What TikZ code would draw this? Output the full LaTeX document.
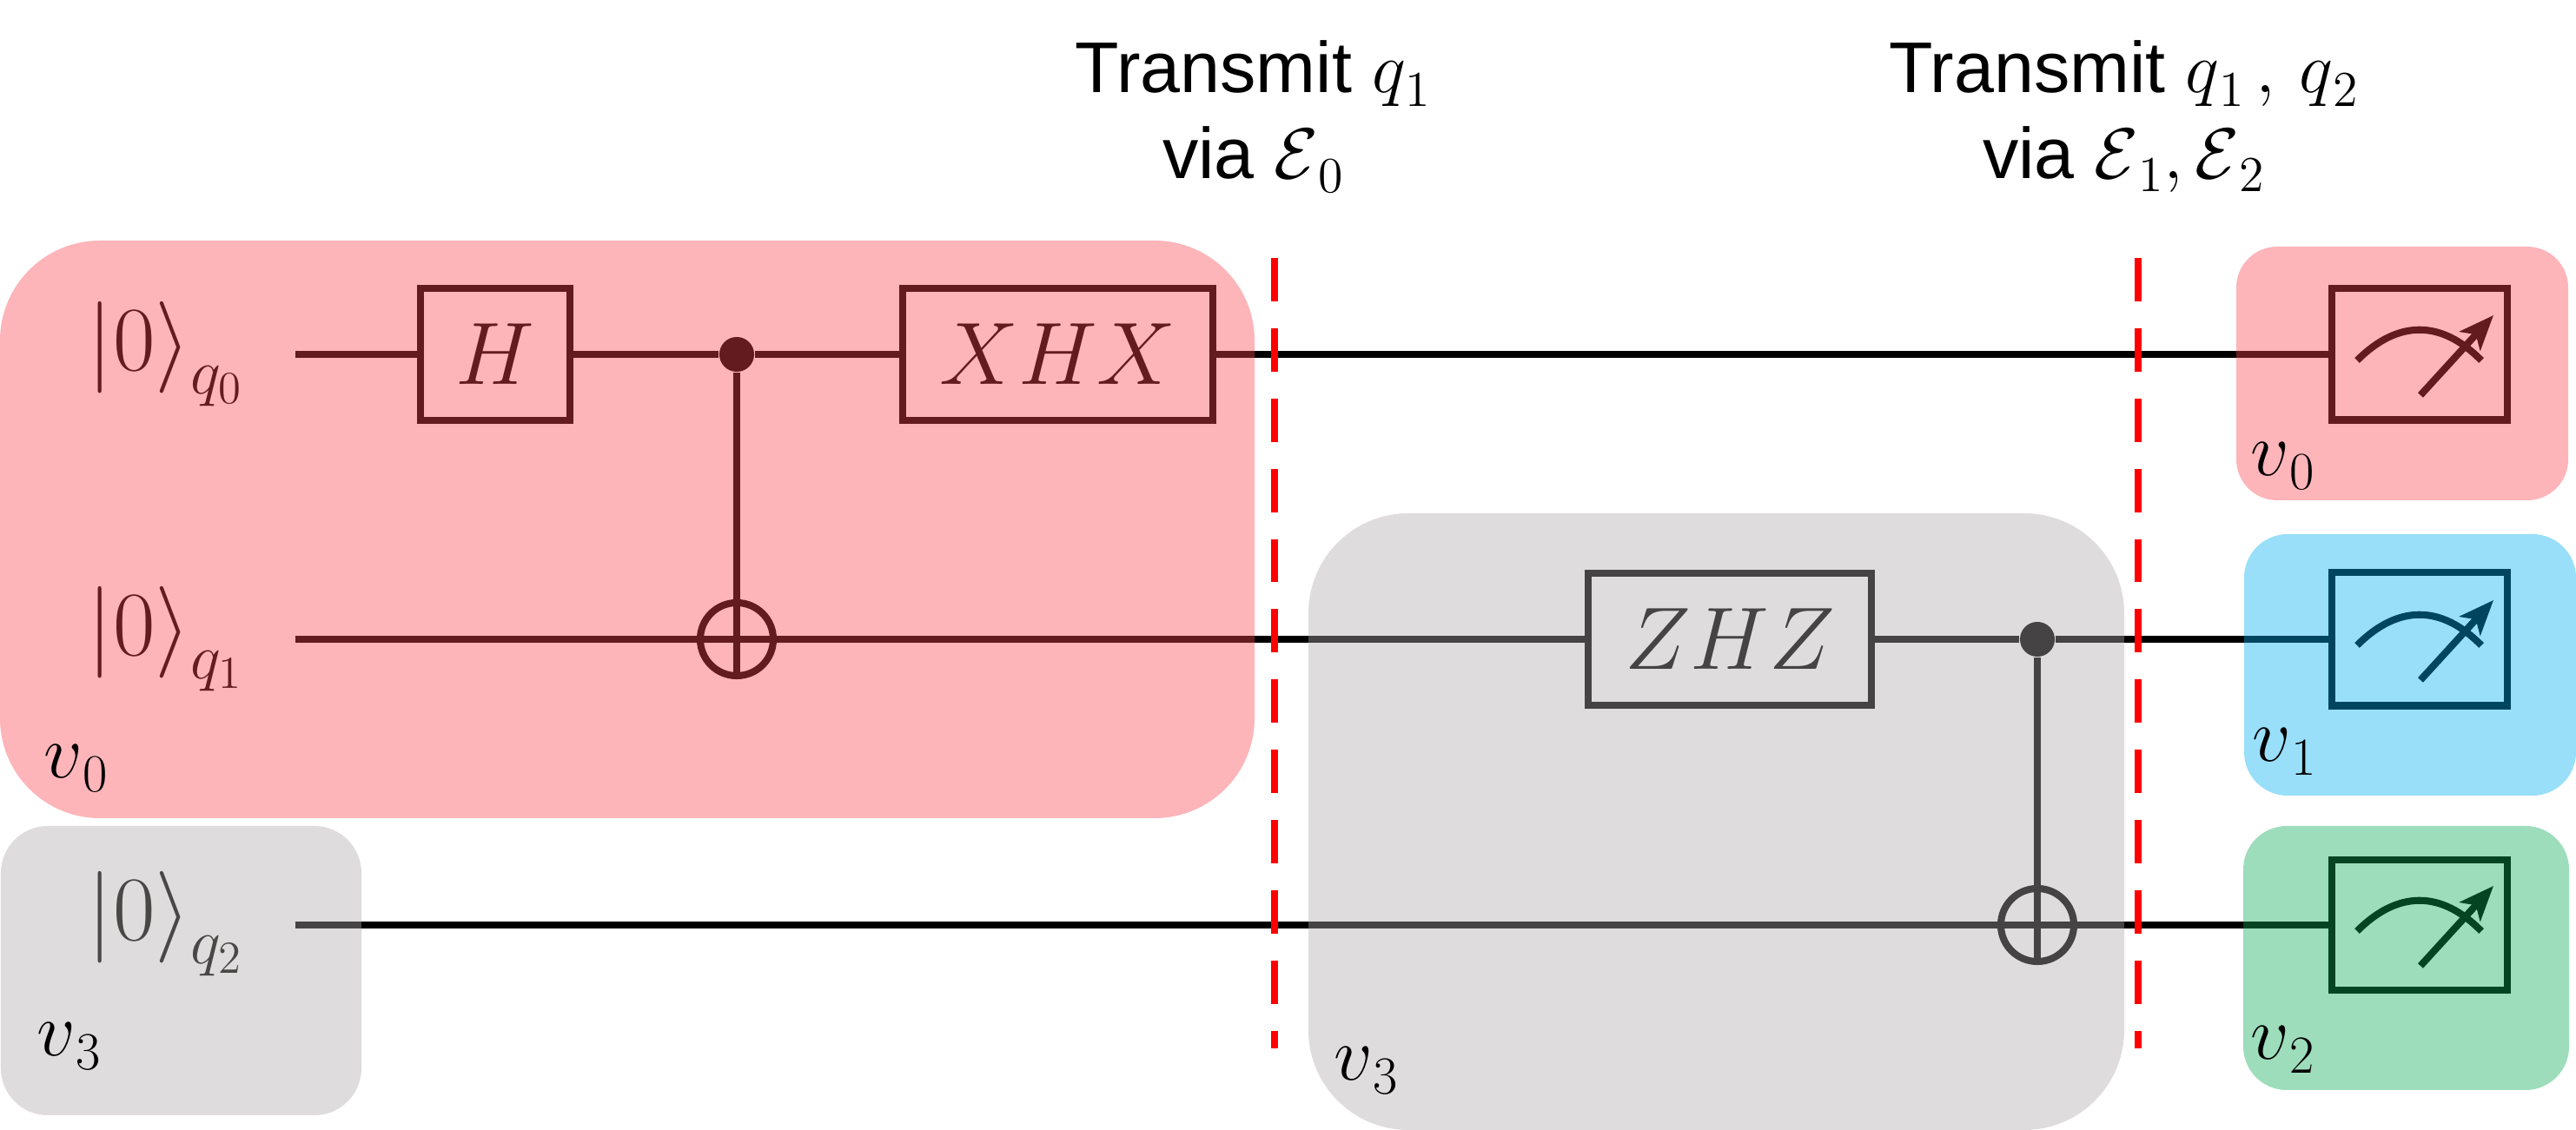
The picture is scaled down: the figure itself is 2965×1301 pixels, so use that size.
\RequirePackage{fix-cm}
\documentclass[tikz,border=0pt]{standalone}
\usepackage[no-math]{fontspec}
\newfontfamily\labelfont{Liberation Sans}
\usetikzlibrary{arrows.meta}
\definecolor{partred}{HTML}{FA454F}
\definecolor{partgray}{HTML}{B0A8AA}
\definecolor{partblue}{HTML}{00AEF2}
\definecolor{partgreen}{HTML}{0AAA58}
\newcommand{\lowsub}[2]{#1\raisebox{-4.5pt}{$\scriptstyle #2$}}
\newcommand{\ketzero}[1]{$|0\rangle\raisebox{-7.5pt}{$\scriptstyle q_{#1}$}$}
\tikzset{
  wire/.style={line width=2.3pt, black},
  gatebox/.style={draw=black, line width=2.3pt, minimum height=1.52cm, inner sep=0pt, font=\fontsize{29}{35}\selectfont},
  ctrldot/.style={circle, fill=black, minimum size=0.4cm, inner sep=0pt},
  targetring/.style={circle, draw=black, line width=2.3pt, minimum size=0.84cm, inner sep=0pt},
  meterbox/.style={draw=black, line width=2.3pt, minimum width=2.02cm, inner sep=0pt},
  ketlabel/.style={inner sep=0pt, anchor=base west, font=\fontsize{30}{36}\selectfont},
  partlabel/.style={inner sep=0pt, anchor=base west, font=\fontsize{25}{30}\selectfont},
  headlabel/.style={align=center, inner sep=0pt, font=\labelfont\fontsize{23.5}{28}\selectfont},
  part/.style={opacity=0.4},
  cutline/.style={red, line width=2.3pt, dash pattern=on 14.2pt off 8.8pt}
}
\begin{document}
\begin{tikzpicture}[x=0.01cm, y=-0.01cm]
\useasboundingbox (0,0) rectangle (2965,1301);
% wire ends
\coordinate (w0) at (340,408);
\coordinate (w1) at (340,736);
\coordinate (w2) at (340,1065);
% gates
\node[gatebox, minimum width=1.72cm] (h) at (570,408) {$H$};
\node[ctrldot] (c0) at (848,408) {};
\node[targetring] (t0) at (848,736) {};
\node[gatebox, minimum width=3.57cm] (xhx) at (1217.5,408) {$XHX$};
\node[gatebox, minimum width=3.26cm] (zhz) at (1991,736) {$ZHZ$};
\node[ctrldot] (c1) at (2345,736) {};
\node[targetring] (t1) at (2345,1065) {};
% measurements
\node[meterbox, minimum height=1.51cm] (m0) at (2785,408) {};
\node[meterbox, minimum height=1.53cm] (m1) at (2785,736) {};
\node[meterbox, minimum height=1.50cm] (m2) at (2785,1065) {};
% wires
\draw[wire] (w0) -- (h) -- (c0) -- (xhx) -- (m0);
\draw[wire] (w1) -- (t0.west) (t0.east) -- (zhz) -- (c1) -- (m1);
\draw[wire] (w2) -- (t1.west) (t1.east) -- (m2);
\draw[wire] (c0) -- (t0.south);
\draw[wire] (t0.west) -- (t0.east);
\draw[wire] (c1) -- (t1.south);
\draw[wire] (t1.west) -- (t1.east);
% meter dials
\foreach \y in {408, 736, 1065} {
  \draw[line width=2.3pt] (2713,\y+7) .. controls (2760,\y-40) and (2810,\y-40) .. (2856,\y+7);
  \draw[line width=2.3pt, -{Stealth[length=0.4cm, width=0.32cm, inset=0.1cm]}] (2786,\y+47) -- (2870,\y-45);
}
% regions
\fill[partred, part, rounded corners=1.15cm] (0,277) rectangle (1444,942);
\fill[partgray, part, rounded corners=0.54cm] (1,951) rectangle (416,1284);
\fill[partgray, part, rounded corners=1.15cm] (1506,591) rectangle (2445,1301);
\fill[partred, part, rounded corners=0.47cm] (2574,284) rectangle (2956,576);
\fill[partblue, part, rounded corners=0.5cm] (2583,615) rectangle (2965,916);
\fill[partgreen, part, rounded corners=0.5cm] (2582,951) rectangle (2957,1255);
% cuts
\draw[cutline] (1467,297) -- (1467,1207);
\draw[cutline] (2461,297) -- (2461,1207);
% labels
\node[ketlabel, text=partred!40!black] (k0) at (100,427) {\ketzero{0}};
\node[ketlabel, text=partred!40!black] (k1) at (100,755) {\ketzero{1}};
\node[ketlabel, text=partgray!42!black] (k2) at (100,1083) {\ketzero{2}};
\node[partlabel] (v0) at (50,896) {$\lowsub{v}{0}$};
\node[partlabel] (v3) at (42,1216) {$\lowsub{v}{3}$};
\node[partlabel] (v3b) at (1535,1244) {$\lowsub{v}{3}$};
\node[partlabel] (v0b) at (2590,548) {$\lowsub{v}{0}$};
\node[partlabel] (v1) at (2592,877) {$\lowsub{v}{1}$};
\node[partlabel] (v2) at (2590,1220) {$\lowsub{v}{2}$};
\node[headlabel] (head0) at (1442,134) {Transmit $\lowsub{q}{1}$\\via $\lowsub{\mathcal{E}}{0}$};
\node[headlabel] (head1) at (2444,134) {Transmit $\lowsub{q}{1}\,,\,\lowsub{q}{2}$\\via $\lowsub{\mathcal{E}}{1},\lowsub{\mathcal{E}}{2}$};
\end{tikzpicture}
\end{document}
